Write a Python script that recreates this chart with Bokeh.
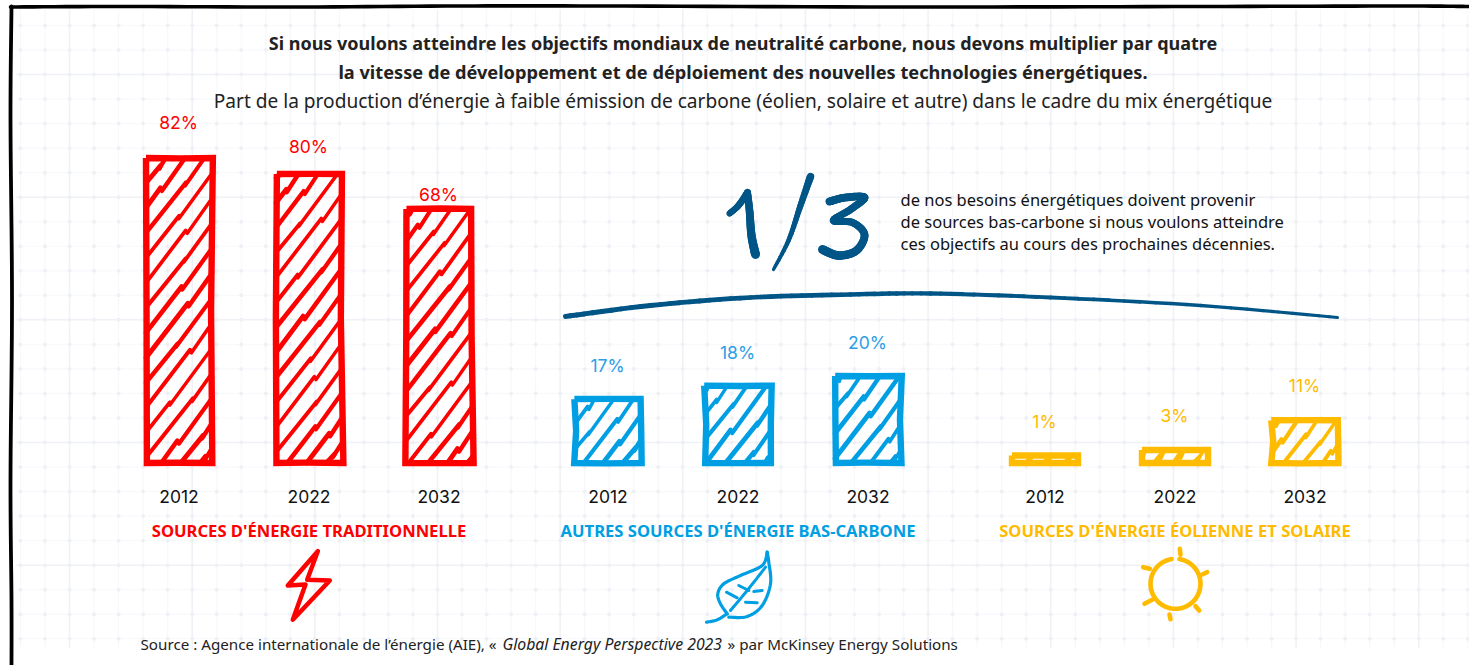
import math
from bokeh.plotting import figure
from bokeh.models import Range1d
from bokeh.core.properties import value
from bokeh.embed import file_html
from bokeh.resources import INLINE

# ---------- data ----------
years = ["2012", "2022", "2032"]
trad_values = [82, 80, 68]
low_values = [17, 18, 20]
wind_values = [1, 3, 11]
# bar heights as drawn in the picture (the sketch is not strictly to scale)
trad_drawn = [82.0, 77.7, 68.3]
low_drawn = [17.2, 20.8, 23.4]
wind_drawn = [2.0, 3.5, 11.5]
group_titles = ["SOURCES D'ÉNERGIE TRADITIONNELLE",
                "AUTRES SOURCES D'ÉNERGIE BAS-CARBONE",
                "SOURCES D'ÉNERGIE ÉOLIENNE ET SOLAIRE"]

RED, BLUE, YEL, NAVY = "#ff0000", "#009fe3", "#ffbb00", "#005587"
BLUE_T = "#2b9ee6"
FONT = "Noto Sans"
NUM_FONT = "Inter"
W, H = 1469, 665
PX = 3.72
BASE = 462.5

p = figure(width=W, height=H, x_range=Range1d(0, W), y_range=Range1d(H, 0),
           toolbar_location=None, output_backend="svg", min_border=0,
           outline_line_color=None, background_fill_color="white",
           border_fill_color="white")
p.axis.visible = False
p.grid.visible = False
p.extra_y_ranges = {"pct": Range1d((BASE - H) / PX, BASE / PX)}


def smooth(pts, n=10):
    out = []
    P = [pts[0]] + list(pts) + [pts[-1]]
    for i in range(1, len(P) - 2):
        a, b, c, d = P[i - 1], P[i], P[i + 1], P[i + 2]
        for k in range(n):
            t = k / n
            out.append(tuple(0.5 * (2 * b[j] + (c[j] - a[j]) * t
                                    + (2 * a[j] - 5 * b[j] + 4 * c[j] - d[j]) * t * t
                                    + (3 * b[j] - a[j] - 3 * c[j] + d[j]) * t ** 3)
                             for j in (0, 1)))
    out.append(tuple(pts[-1]))
    return out


def stroke(pts, color, width, curve=True):
    q = smooth(pts) if curve else pts
    p.line([a for a, _ in q], [b for _, b in q], line_color=color, line_width=width,
           line_cap="round", line_join="round")


def taper(pts, color, w0, w1, w2=None):
    """curved stroke whose width runs w0 -> w1 (-> w2)"""
    q = smooth(pts)
    n = len(q) - 1
    ws = []
    for i in range(n):
        t = i / n
        if w2 is None:
            ws.append(w0 + (w1 - w0) * t)
        elif t < 0.5:
            ws.append(w0 + (w1 - w0) * t * 2)
        else:
            ws.append(w1 + (w2 - w1) * (t - 0.5) * 2)
    p.segment([a[0] for a in q[:-1]], [a[1] for a in q[:-1]],
              [a[0] for a in q[1:]], [a[1] for a in q[1:]],
              line_color=color, line_width=ws, line_cap="round")


# ---------- notebook grid ----------
STEP = 24.53
gx = [20 + STEP * i for i in range(60)]
gy = [25 + STEP * i for i in range(26)]
for i, x in enumerate(gx):
    strong = (i % 5) == 2
    p.line([x, x], [9, 648], line_color="#eff1f6" if strong else "#f7f8fb",
           line_width=1.5 if strong else 1.2)
for i, y in enumerate(gy):
    strong = (i % 5) == 2
    p.line([16, 1469], [y, y], line_color="#eff1f6" if strong else "#f8f9fb",
           line_width=1.5 if strong else 1.2)
p.scatter([x for x in gx for _ in gy], [y for _ in gx for y in gy], size=4,
          marker="circle", fill_color="#eff0f5", line_color=None)

# ---------- frame ----------
stroke([(10, 6.5), (120, 6), (300, 6.5), (460, 5.5), (600, 5.5), (900, 6.5), (1200, 6), (1400, 5.5), (1469, 6)], "#000000", 3.6)
stroke([(11, 6), (10, 120), (11.5, 300), (10, 480), (11, 600), (11, 665)], "#000000", 3.8)


# ---------- bars ----------
def bar(cx, h, color, seed):
    half = 33
    cx -= 0.5
    x0, x1 = cx - half, cx + half
    w = 6.4
    wob = [0.9 * math.sin(seed * 1.3 + i * 1.9) for i in range(8)]
    if h * PX > 40:
        xs = [x0 + wob[0], x0 + 35, x1 + wob[1], x1 + wob[2] * 0.8 - 0.5, x1 + wob[3] + 0.8, x0 + 30,
              x0 + wob[4], x0 + wob[5] * 0.8 + 0.6, x0 + wob[0]]
        ys = [h, h + wob[6] * 0.12, h, h * 0.5, 0, wob[7] * 0.12, 0, h * 0.5, h]
    else:
        xs = [x0, x1, x1, x0, x0]
        ys = [h, h, 0, 0, h]
    p.line(xs, ys, y_range_name="pct", line_color=color, line_width=w, line_join="miter")
    # hatch clipped to the inside of the bar
    hpx = h * PX
    slope = 1.28
    gap = 19.5
    span = 2 * half
    c = -hpx / slope + (seed % 3) * 3.0
    k = 0
    while c < span:
        xa, xb = c, c + hpx / slope
        ya, yb = 0.0, hpx
        if xa < 0:
            ya = -xa * slope
            xa = 0.0
        if xb > span:
            yb = hpx - (xb - span) * slope
            xb = span
        if xb > xa and yb > ya:
            j = 1.3 * math.sin(k * 2.3 + seed)
            f = 0.3 + 0.4 * abs(math.sin(k * 1.7 + seed))
            mx, my = xa + (xb - xa) * f + j, ya + (yb - ya) * f
            lw = 4.3 + 0.6 * math.sin(k + seed)
            p.line([x0 + xa, x0 + mx], [ya / PX, my / PX],
                   y_range_name="pct", line_color=color, line_width=lw,
                   line_cap="round", line_join="round")
            p.line([x0 + mx - j * 1.2, x0 + xb], [(my - 3) / PX, yb / PX],
                   y_range_name="pct", line_color=color, line_width=lw * 0.92,
                   line_cap="round", line_join="round")
        c += gap
        k += 1


def text(x, y, s, color="#222222", size="15px", bold=False, italic=False, align="center", font=FONT):
    style = "bold" if bold else ("italic" if italic else "normal")
    p.text([x], [y], text=[s], text_color=color, text_font=value(font), text_font_size=size,
           text_font_style=style, text_align=align, text_baseline="middle")


groups = [
    (trad_values, trad_drawn, [179, 309, 439], RED, RED, [122, 146, 194], 308.5),
    (low_values, low_drawn, [608, 738, 868], BLUE, BLUE_T, [365, 352, 342], 737.5),
    (wind_values, wind_drawn, [1045, 1175, 1305], YEL, YEL, [421, 415, 385], 1174.5),
]
seed = 0
for gi, (vals, drawn, cxs, col, tcol, ly, tx) in enumerate(groups):
    for v, d, cx, y, yr in zip(vals, drawn, cxs, ly, years):
        bar(cx, d, col, seed)
        seed += 1
        text(cx - 1, y - 0.5, f"{v}%", tcol, "17.5px", font=NUM_FONT)
        text(cx - 0.5, 495.5, yr, "#111111", "17.5px", font=NUM_FONT)
    text(tx, 530, group_titles[gi], col, "16.6px", bold=True)

# ---------- titles ----------
text(742.5, 42, "Si nous voulons atteindre les objectifs mondiaux de neutralité carbone, nous devons multiplier par quatre", "#222222", "18px", bold=True)
text(742.5, 71, "la vitesse de développement et de déploiement des nouvelles technologies énergétiques.", "#222222", "18.2px", bold=True)
text(742.5, 100, "Part de la production d’énergie à faible émission de carbone (éolien, solaire et autre) dans le cadre du mix énergétique", "#222222", "19.1px")

# ---------- callout ----------
text(900, 199, "de nos besoins énergétiques doivent provenir", "#111111", "16.5px", align="left")
text(900, 221, "de sources bas-carbone si nous voulons atteindre", "#111111", "16.5px", align="left")
text(900, 243, "ces objectifs au cours des prochaines décennies.", "#111111", "16.5px", align="left")

taper([(729, 213), (738, 205), (747, 192)], NAVY, 6, 7)
taper([(747, 192), (749, 210), (751, 235), (755, 254)], NAVY, 7, 9)
taper([(810, 176), (800, 205), (788, 240), (773, 269)], NAVY, 7.5, 3)
taper([(829, 201), (845, 197), (864, 197), (850, 209), (833, 220), (852, 222), (864, 234), (856, 250), (838, 255), (822, 249)], NAVY, 8, 7, 9)
taper([(565, 316), (650, 305), (750, 297), (850, 294), (930, 293), (1050, 297), (1200, 305), (1337, 317)], NAVY, 5, 4.5, 3)

# ---------- icons ----------
stroke([(317.3, 550.7), (287.3, 585), (305, 584), (292.3, 619.3), (329.3, 580), (306.7, 579.3), (317.3, 550.7)], RED, 4.5, curve=False)

stroke([(766.7, 551.7), (761.7, 565), (740, 575), (723.3, 583.3), (717.3, 593.3), (720, 603.3), (726.7, 613.3)], BLUE, 3.2)
stroke([(726.7, 613.3), (716.7, 619.3), (706, 621.7)], BLUE, 3.2)
stroke([(728.3, 616.7), (746.7, 616), (761.7, 605), (770, 583.3), (768.3, 561.7), (766.7, 551.7)], BLUE, 3.2)
stroke([(765, 566.7), (746.7, 590), (730, 610)], BLUE, 3)
for a, b in [((738.3, 585), (748.3, 590)), ((753.3, 591), (761.7, 590)),
             ((726, 591.7), (736.7, 597.3)), ((745, 601.7), (756.7, 602.3))]:
    stroke([a, b], BLUE, 3, curve=False)

sun = [(1175 + 25 * math.sin(math.radians(t)), 583.3 - 25 * math.cos(math.radians(t)))
       for t in range(9, 352, 6)]
stroke(sun, YEL, 4.6, curve=False)
for a, b in [((1179.3, 548.3), (1180, 554.3)), ((1201.7, 574), (1206.7, 571.7)),
             ((1195, 605.7), (1198.7, 610)), ((1169, 614), (1170, 618.7)),
             ((1144, 603.3), (1151.7, 599.3)), ((1142.7, 566.7), (1149.3, 568.3))]:
    stroke([a, b], YEL, 4.6, curve=False)

# ---------- source ----------
text(140, 643.5, "Source : Agence internationale de l’énergie (AIE), «", "#222222", "15.2px", align="left")
text(502, 643.5, "Global Energy Perspective 2023", "#222222", "15.8px", italic=True, align="left")
text(727, 643.5, "» par McKinsey Energy Solutions", "#222222", "15.2px", align="left")

open("out.html", "w").write(file_html(p, INLINE))
